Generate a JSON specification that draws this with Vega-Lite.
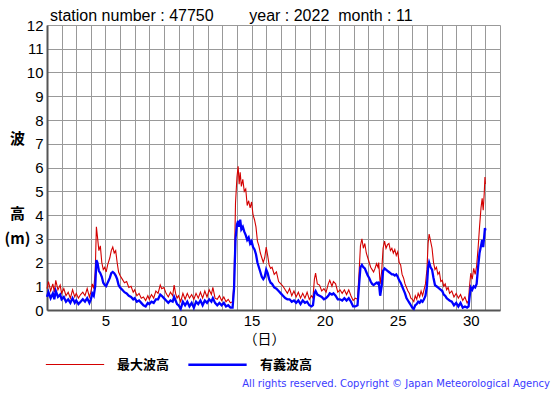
{
"$schema": "https://vega.github.io/schema/vega-lite/v6.json",
"width": 453, "height": 285,
"autosize": {"type": "none"},
"padding": {"left": 47, "top": 25, "right": 55, "bottom": 85},
"background": "white",
"title": {"text": "station number : 47750\u00a0\u00a0\u00a0\u00a0\u00a0\u00a0\u00a0\u00a0year : 2022\u00a0\u00a0month : 11", "anchor": "start", "frame": "group", "dx": 3, "offset": -6, "font": "Liberation Sans", "fontSize": 16, "fontWeight": "normal", "color": "black"},
"config": {
"view": {"stroke": null},
"axisX": {"tickCount": 31, "labelExpr": "datum.value % 5 === 0 ? datum.label : ''", "ticks": false, "grid": true, "gridColor": "#999999", "gridWidth": 1,
"domainColor": "#555555", "domainWidth": 2, "labelFont": "Liberation Sans", "labelFontSize": 15, "labelColor": "black", "labelPadding": 3, "labelFlush": false, "labelOverlap": false,
"titleFont": "Noto Sans CJK JP", "titleFontSize": 14, "titleFontWeight": "normal", "titleColor": "black",
"titleX": 217, "titleY": 29, "titleAlign": "center", "titleBaseline": "middle"},
"axisY": {"tickCount": 12, "ticks": false, "grid": true, "gridColor": "#999999", "gridWidth": 1,
"domainColor": "#555555", "domainWidth": 2, "labelFont": "Liberation Sans", "labelFontSize": 15, "labelColor": "black", "labelPadding": 4, "labelOverlap": false, "labelFlush": false,
"titleFont": "Noto Sans CJK JP", "titleFontSize": 15, "titleFontWeight": "bold", "titleColor": "black",
"titleAngle": 0, "titleX": -30, "titleY": 106, "titleAlign": "center", "titleBaseline": "top", "titleLineHeight": 25}
},
"layer": [
{
"data": {"values": [
{"d":1.0,"max":0.9,"sig":0.55},{"d":1.1,"max":1.2,"sig":0.75},{"d":1.25,"max":0.8,"sig":0.5},{"d":1.4,"max":1.1,"sig":0.7},{"d":1.5,"max":0.75,"sig":0.45},{"d":1.6,"max":1.25,"sig":0.8},{"d":1.75,"max":0.85,"sig":0.55},{"d":1.9,"max":1.05,"sig":0.65},
{"d":2.0,"max":0.7,"sig":0.45},{"d":2.15,"max":0.9,"sig":0.55},{"d":2.3,"max":0.6,"sig":0.35},{"d":2.45,"max":0.75,"sig":0.45},{"d":2.6,"max":0.5,"sig":0.3},{"d":2.75,"max":0.85,"sig":0.5},{"d":2.9,"max":0.55,"sig":0.3},
{"d":3.0,"max":0.7,"sig":0.4},{"d":3.15,"max":0.5,"sig":0.25},{"d":3.3,"max":0.65,"sig":0.35},{"d":3.45,"max":0.75,"sig":0.45},{"d":3.6,"max":0.6,"sig":0.35},{"d":3.75,"max":0.9,"sig":0.5},{"d":3.9,"max":0.55,"sig":0.3},
{"d":4.0,"max":0.75,"sig":0.45},{"d":4.1,"max":1.1,"sig":0.7},{"d":4.2,"max":0.9,"sig":0.6},{"d":4.3,"max":1.6,"sig":1.0},{"d":4.38,"max":3.5,"sig":2.1},{"d":4.45,"max":3.1,"sig":2.0},{"d":4.55,"max":2.5,"sig":1.65},{"d":4.65,"max":2.7,"sig":1.55},{"d":4.75,"max":2.0,"sig":1.4},{"d":4.85,"max":1.7,"sig":1.15},{"d":4.95,"max":1.8,"sig":1.05},
{"d":5.05,"max":1.6,"sig":1.0},{"d":5.15,"max":1.9,"sig":1.15},{"d":5.3,"max":2.2,"sig":1.35},{"d":5.4,"max":2.5,"sig":1.55},{"d":5.5,"max":2.65,"sig":1.6},{"d":5.6,"max":2.4,"sig":1.55},{"d":5.7,"max":2.5,"sig":1.45},{"d":5.8,"max":2.0,"sig":1.3},{"d":5.9,"max":1.6,"sig":1.05},
{"d":6.0,"max":1.45,"sig":0.95},{"d":6.15,"max":1.3,"sig":0.85},{"d":6.3,"max":1.15,"sig":0.75},{"d":6.45,"max":1.2,"sig":0.7},{"d":6.6,"max":0.95,"sig":0.6},{"d":6.75,"max":1.0,"sig":0.55},{"d":6.9,"max":0.75,"sig":0.45},
{"d":7.0,"max":0.85,"sig":0.5},{"d":7.15,"max":0.6,"sig":0.35},{"d":7.3,"max":0.7,"sig":0.4},{"d":7.45,"max":0.5,"sig":0.3},{"d":7.6,"max":0.55,"sig":0.2},{"d":7.75,"max":0.4,"sig":0.15},{"d":7.9,"max":0.6,"sig":0.3},
{"d":8.0,"max":0.45,"sig":0.25},{"d":8.15,"max":0.65,"sig":0.35},{"d":8.3,"max":0.5,"sig":0.3},{"d":8.45,"max":0.8,"sig":0.45},{"d":8.6,"max":0.7,"sig":0.45},{"d":8.75,"max":1.05,"sig":0.65},{"d":8.85,"max":0.9,"sig":0.6},
{"d":9.0,"max":0.95,"sig":0.5},{"d":9.15,"max":0.7,"sig":0.4},{"d":9.3,"max":0.55,"sig":0.3},{"d":9.45,"max":0.75,"sig":0.4},{"d":9.6,"max":0.6,"sig":0.35},{"d":9.7,"max":1.05,"sig":0.55},{"d":9.8,"max":0.7,"sig":0.4},{"d":9.9,"max":0.5,"sig":0.25},
{"d":10.0,"max":0.6,"sig":0.2},{"d":10.15,"max":0.35,"sig":0.05},{"d":10.3,"max":0.7,"sig":0.35},{"d":10.45,"max":0.45,"sig":0.2},{"d":10.6,"max":0.7,"sig":0.35},{"d":10.75,"max":0.5,"sig":0.15},{"d":10.9,"max":0.65,"sig":0.3},
{"d":11.05,"max":0.45,"sig":0.1},{"d":11.2,"max":0.7,"sig":0.35},{"d":11.35,"max":0.5,"sig":0.25},{"d":11.5,"max":0.75,"sig":0.4},{"d":11.65,"max":0.5,"sig":0.2},{"d":11.8,"max":0.8,"sig":0.4},{"d":11.95,"max":0.55,"sig":0.3},
{"d":12.1,"max":0.85,"sig":0.45},{"d":12.25,"max":0.65,"sig":0.35},{"d":12.35,"max":0.95,"sig":0.5},{"d":12.5,"max":0.5,"sig":0.3},{"d":12.65,"max":0.45,"sig":0.2},{"d":12.8,"max":0.6,"sig":0.3},{"d":12.95,"max":0.4,"sig":0.2},
{"d":13.1,"max":0.55,"sig":0.3},{"d":13.25,"max":0.35,"sig":0.15},{"d":13.4,"max":0.45,"sig":0.2},{"d":13.55,"max":0.3,"sig":0.1},{"d":13.7,"max":0.35,"sig":0.1},{"d":13.8,"max":1.2,"sig":0.9},{"d":13.9,"max":4.5,"sig":3.0},
{"d":14.0,"max":5.6,"sig":3.6},{"d":14.08,"max":6.05,"sig":3.75},{"d":14.15,"max":5.3,"sig":3.5},{"d":14.22,"max":5.8,"sig":3.8},{"d":14.3,"max":5.2,"sig":3.4},{"d":14.4,"max":5.5,"sig":3.5},{"d":14.5,"max":5.0,"sig":3.3},{"d":14.6,"max":5.1,"sig":3.15},{"d":14.7,"max":4.4,"sig":2.95},{"d":14.8,"max":4.6,"sig":3.05},{"d":14.9,"max":4.3,"sig":2.8},
{"d":15.0,"max":4.55,"sig":2.9},{"d":15.1,"max":4.0,"sig":2.65},{"d":15.2,"max":3.8,"sig":2.55},{"d":15.3,"max":3.5,"sig":2.35},{"d":15.4,"max":2.9,"sig":2.0},{"d":15.5,"max":2.7,"sig":1.8},{"d":15.6,"max":2.4,"sig":1.6},{"d":15.7,"max":2.2,"sig":1.4},{"d":15.8,"max":2.0,"sig":1.3},{"d":15.9,"max":2.2,"sig":1.4},
{"d":16.0,"max":2.65,"sig":1.7},{"d":16.1,"max":2.3,"sig":1.55},{"d":16.2,"max":1.9,"sig":1.3},{"d":16.3,"max":1.75,"sig":1.15},{"d":16.4,"max":1.8,"sig":1.1},{"d":16.55,"max":1.5,"sig":0.95},{"d":16.7,"max":1.6,"sig":0.9},{"d":16.85,"max":1.2,"sig":0.8},
{"d":17.0,"max":1.1,"sig":0.7},{"d":17.15,"max":1.0,"sig":0.6},{"d":17.3,"max":0.85,"sig":0.5},{"d":17.45,"max":0.7,"sig":0.45},{"d":17.6,"max":0.9,"sig":0.45},{"d":17.75,"max":0.6,"sig":0.35},{"d":17.9,"max":0.8,"sig":0.4},
{"d":18.05,"max":0.55,"sig":0.3},{"d":18.2,"max":0.75,"sig":0.4},{"d":18.35,"max":0.5,"sig":0.25},{"d":18.5,"max":0.7,"sig":0.4},{"d":18.65,"max":0.5,"sig":0.3},{"d":18.8,"max":0.75,"sig":0.35},{"d":18.95,"max":0.45,"sig":0.2},
{"d":19.1,"max":0.6,"sig":0.15},{"d":19.2,"max":0.5,"sig":0.2},{"d":19.3,"max":1.3,"sig":0.7},{"d":19.38,"max":1.55,"sig":0.8},{"d":19.5,"max":1.1,"sig":0.65},{"d":19.65,"max":1.05,"sig":0.6},{"d":19.8,"max":0.8,"sig":0.55},{"d":19.95,"max":0.9,"sig":0.45},
{"d":20.1,"max":0.75,"sig":0.5},{"d":20.25,"max":1.1,"sig":0.6},{"d":20.35,"max":1.25,"sig":0.7},{"d":20.5,"max":1.0,"sig":0.65},{"d":20.6,"max":1.2,"sig":0.7},{"d":20.75,"max":1.1,"sig":0.6},{"d":20.9,"max":0.75,"sig":0.45},
{"d":21.05,"max":0.85,"sig":0.45},{"d":21.2,"max":0.7,"sig":0.4},{"d":21.35,"max":0.85,"sig":0.5},{"d":21.5,"max":0.65,"sig":0.4},{"d":21.65,"max":0.85,"sig":0.5},{"d":21.8,"max":0.6,"sig":0.35},{"d":21.95,"max":0.4,"sig":0.15},
{"d":22.1,"max":0.5,"sig":0.15},{"d":22.25,"max":0.45,"sig":0.2},{"d":22.35,"max":1.5,"sig":1.0},{"d":22.45,"max":2.7,"sig":1.8},{"d":22.55,"max":3.0,"sig":1.9},{"d":22.65,"max":2.6,"sig":1.8},{"d":22.75,"max":2.8,"sig":1.75},{"d":22.85,"max":2.4,"sig":1.6},{"d":22.95,"max":2.2,"sig":1.45},
{"d":23.05,"max":2.0,"sig":1.35},{"d":23.15,"max":1.8,"sig":1.2},{"d":23.25,"max":1.7,"sig":1.1},{"d":23.35,"max":1.6,"sig":1.05},{"d":23.45,"max":1.75,"sig":1.1},{"d":23.55,"max":1.95,"sig":1.15},{"d":23.65,"max":1.8,"sig":1.1},{"d":23.7,"max":2.0,"sig":1.2},{"d":23.8,"max":1.1,"sig":0.6},{"d":23.9,"max":1.6,"sig":1.0},
{"d":24.0,"max":2.6,"sig":1.65},{"d":24.1,"max":2.9,"sig":1.75},{"d":24.2,"max":2.6,"sig":1.7},{"d":24.3,"max":2.75,"sig":1.65},{"d":24.4,"max":2.8,"sig":1.6},{"d":24.5,"max":2.5,"sig":1.55},{"d":24.6,"max":2.6,"sig":1.5},{"d":24.7,"max":2.4,"sig":1.5},{"d":24.8,"max":2.55,"sig":1.45},{"d":24.9,"max":2.3,"sig":1.5},
{"d":25.0,"max":2.45,"sig":1.4},{"d":25.1,"max":2.0,"sig":1.25},{"d":25.2,"max":1.9,"sig":1.15},{"d":25.3,"max":1.5,"sig":1.0},{"d":25.4,"max":1.35,"sig":0.85},{"d":25.5,"max":1.1,"sig":0.7},{"d":25.6,"max":0.95,"sig":0.5},{"d":25.7,"max":0.8,"sig":0.4},{"d":25.8,"max":0.7,"sig":0.3},{"d":25.9,"max":0.5,"sig":0.2},
{"d":26.0,"max":0.45,"sig":0.1},{"d":26.1,"max":0.35,"sig":0.05},{"d":26.2,"max":0.6,"sig":0.2},{"d":26.3,"max":0.45,"sig":0.25},{"d":26.4,"max":0.7,"sig":0.35},{"d":26.5,"max":0.55,"sig":0.3},{"d":26.6,"max":0.8,"sig":0.4},{"d":26.7,"max":0.6,"sig":0.35},{"d":26.8,"max":0.85,"sig":0.45},{"d":26.9,"max":1.1,"sig":0.6},
{"d":27.0,"max":1.7,"sig":1.0},{"d":27.08,"max":2.8,"sig":1.8},{"d":27.15,"max":3.2,"sig":2.0},{"d":27.25,"max":2.9,"sig":1.8},{"d":27.35,"max":2.6,"sig":1.7},{"d":27.45,"max":2.0,"sig":1.35},{"d":27.55,"max":1.7,"sig":1.05},{"d":27.65,"max":1.8,"sig":1.0},{"d":27.75,"max":1.5,"sig":0.95},{"d":27.85,"max":1.6,"sig":0.9},{"d":27.95,"max":1.2,"sig":0.85},
{"d":28.05,"max":1.25,"sig":0.8},{"d":28.15,"max":1.0,"sig":0.65},{"d":28.25,"max":1.1,"sig":0.6},{"d":28.35,"max":0.85,"sig":0.5},{"d":28.45,"max":0.95,"sig":0.45},{"d":28.55,"max":0.7,"sig":0.4},{"d":28.7,"max":0.8,"sig":0.35},{"d":28.85,"max":0.55,"sig":0.2},
{"d":29.0,"max":0.7,"sig":0.3},{"d":29.15,"max":0.5,"sig":0.15},{"d":29.3,"max":0.65,"sig":0.3},{"d":29.45,"max":0.4,"sig":0.1},{"d":29.6,"max":0.55,"sig":0.15},{"d":29.75,"max":0.3,"sig":0.1},{"d":29.85,"max":0.4,"sig":0.15},{"d":29.9,"max":0.9,"sig":0.45},
{"d":30.0,"max":1.55,"sig":0.95},{"d":30.1,"max":1.3,"sig":0.85},{"d":30.2,"max":1.75,"sig":1.0},{"d":30.3,"max":1.5,"sig":0.95},{"d":30.4,"max":1.85,"sig":1.1},{"d":30.5,"max":2.6,"sig":1.8},{"d":30.6,"max":3.5,"sig":2.4},{"d":30.7,"max":4.3,"sig":2.7},{"d":30.78,"max":4.7,"sig":2.95},{"d":30.85,"max":4.2,"sig":2.65},{"d":30.92,"max":4.9,"sig":3.1},{"d":30.97,"max":5.6,"sig":3.45},{"d":31.0,"max":5.3,"sig":3.35}
]},
"transform": [{"fold": ["max", "sig"], "as": ["series", "value"]}],
"mark": {"type": "line", "interpolate": "linear"},
"encoding": {
"x": {"field": "d", "type": "quantitative", "scale": {"domain": [1, 32], "nice": false, "zero": false}, "axis": {"title": "（日）"}},
"y": {"field": "value", "type": "quantitative", "scale": {"domain": [0, 12], "nice": false}, "axis": {"title": ["波", "\u200b", "\u200b ", "高", "(m)"]}},
"color": {"field": "series", "type": "nominal", "scale": {"domain": ["max", "sig"], "range": ["#d40000", "#0000ff"]},
"legend": {"orient": "none", "legendX": -2, "legendY": 309, "direction": "horizontal", "title": null,
"symbolType": "stroke", "symbolSize": 3400, "symbolStrokeWidth": 4,
"encode": {"symbols": {"update": {"strokeWidth": {"value": 4}}}},
"labelExpr": "datum.label == 'max' ? '最大波高' : '有義波高'", "labelFont": "Noto Sans CJK JP", "labelFontSize": 13, "labelFontWeight": "bold", "labelColor": "black",
"labelOffset": 12, "columnPadding": 13}},
"strokeWidth": {"field": "series", "type": "nominal", "scale": {"domain": ["max", "sig"], "range": [1.1, 2.3]}, "legend": null}
}
},
{
"data": {"values": [{"t": "All rights reserved. Copyright © Japan Meteorological Agency"}]},
"mark": {"type": "text", "align": "right", "baseline": "middle", "font": "DejaVu Sans", "fontSize": 10, "color": "#3a3aff", "dx": 50, "dy": 74},
"encoding": {"x": {"datum": 32}, "y": {"datum": 0}, "text": {"field": "t"}}
}
]
}
